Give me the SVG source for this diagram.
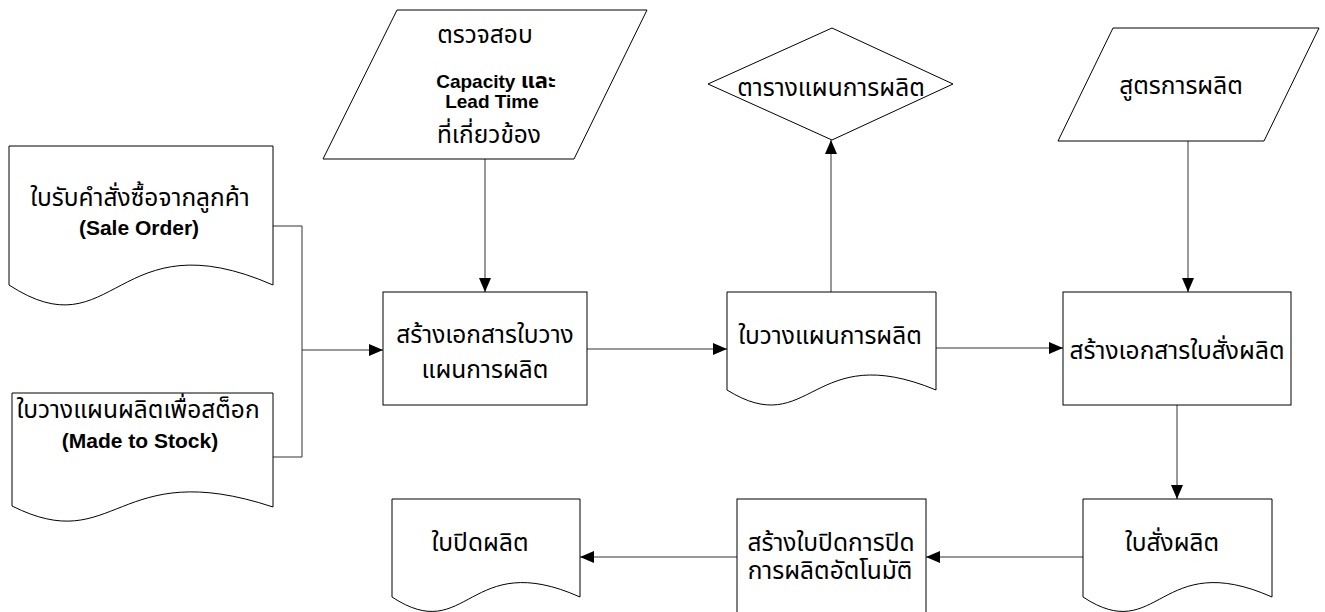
<svg xmlns="http://www.w3.org/2000/svg" width="1325" height="612" viewBox="0 0 1325 612">
<defs>
<marker id="arr" viewBox="0 0 14 12" refX="14" refY="6" markerWidth="14" markerHeight="12" markerUnits="userSpaceOnUse" orient="auto">
<path d="M0,0 L14,6 L0,12 Z" fill="#000"/>
</marker>
<style>
.shape{fill:#fff;stroke:#000;stroke-width:1}
.conn{fill:none;stroke:#333;stroke-width:1}
.th{font-family:"Liberation Sans","Noto Sans Thai","Noto Sans",sans-serif;font-size:24.5px;fill:#000;text-anchor:middle}
.en{font-family:"Liberation Sans","Noto Sans Thai",sans-serif;font-size:21px;font-weight:bold;fill:#000;text-anchor:middle}
.en2{font-family:"Liberation Sans","Noto Sans Thai",sans-serif;font-size:19px;font-weight:bold;fill:#000;text-anchor:middle}
</style>
</defs>
<rect width="1325" height="612" fill="#fff"/>

<g id="connectors">
<path class="conn" d="M273,226 H302 V350 H383" marker-end="url(#arr)"/>
<path class="conn" d="M273,457 H302 V350"/>
<path class="conn" d="M485,159 V292" marker-end="url(#arr)"/>
<path class="conn" d="M587,349 H727" marker-end="url(#arr)"/>
<path class="conn" d="M831,292 V140" marker-end="url(#arr)"/>
<path class="conn" d="M936,348 H1063" marker-end="url(#arr)"/>
<path class="conn" d="M1188,141 V292" marker-end="url(#arr)"/>
<path class="conn" d="M1177,405 V499" marker-end="url(#arr)"/>
<path class="conn" d="M1083,557 H926" marker-end="url(#arr)"/>
<path class="conn" d="M737,557 H580" marker-end="url(#arr)"/>
</g>

<g id="doc-sale-order">
<path class="shape" d="M9,146 H273 V285 C115,216 115,354 9,285 Z"/>
<text class="th" x="140" y="206">ใบรับคำสั่งซื้อจากลูกค้า</text>
<text class="en" x="139" y="235">(Sale Order)</text>
</g>

<g id="doc-made-to-stock">
<path class="shape" d="M12,393 H273 V507 C116,455 116,558 12,506 Z"/>
<text class="th" x="138" y="418">ใบวางแผนผลิตเพื่อสต็อก</text>
<text class="en" x="140" y="448">(Made to Stock)</text>
</g>

<g id="input-capacity">
<path class="shape" d="M397,10 H647 L574,159 H323 Z"/>
<text class="th" x="485" y="43">ตรวจสอบ</text>
<text class="en2" x="496" y="88">Capacity <tspan font-size="22px">และ</tspan></text>
<text class="en2" x="492" y="108">Lead Time</text>
<text class="th" x="489" y="143">ที่เกี่ยวข้อง</text>
</g>

<g id="proc-create-plan">
<rect class="shape" x="383" y="292" width="204" height="113"/>
<text class="th" x="485" y="343">สร้างเอกสารใบวาง</text>
<text class="th" x="485" y="378">แผนการผลิต</text>
</g>

<g id="decision-schedule">
<path class="shape" d="M708,84 L832,28 L953,84 L832,140 Z"/>
<text class="th" x="831" y="96">ตารางแผนการผลิต</text>
</g>

<g id="doc-plan">
<path class="shape" d="M727,292 H936 V390 C811,338 811,442 727,390 Z"/>
<text class="th" x="830" y="344">ใบวางแผนการผลิต</text>
</g>

<g id="input-formula">
<path class="shape" d="M1113,28 H1319 L1264,141 H1058 Z"/>
<text class="th" x="1181" y="94">สูตรการผลิต</text>
</g>

<g id="proc-create-order">
<rect class="shape" x="1063" y="292" width="228" height="113"/>
<text class="th" x="1177" y="359">สร้างเอกสารใบสั่งผลิต</text>
</g>

<g id="doc-order">
<path class="shape" d="M1083,499 H1272 V597 C1159,547 1159,647 1083,597 Z"/>
<text class="th" x="1172" y="551">ใบสั่งผลิต</text>
</g>

<g id="proc-close">
<rect class="shape" x="737" y="499" width="189" height="130"/>
<text class="th" x="831" y="551">สร้างใบปิดการปิด</text>
<text class="th" x="830" y="579">การผลิตอัตโนมัติ</text>
</g>

<g id="doc-close">
<path class="shape" d="M392,499 H580 V597 C468,547 468,647 392,597 Z"/>
<text class="th" x="480" y="551">ใบปิดผลิต</text>
</g>
</svg>
